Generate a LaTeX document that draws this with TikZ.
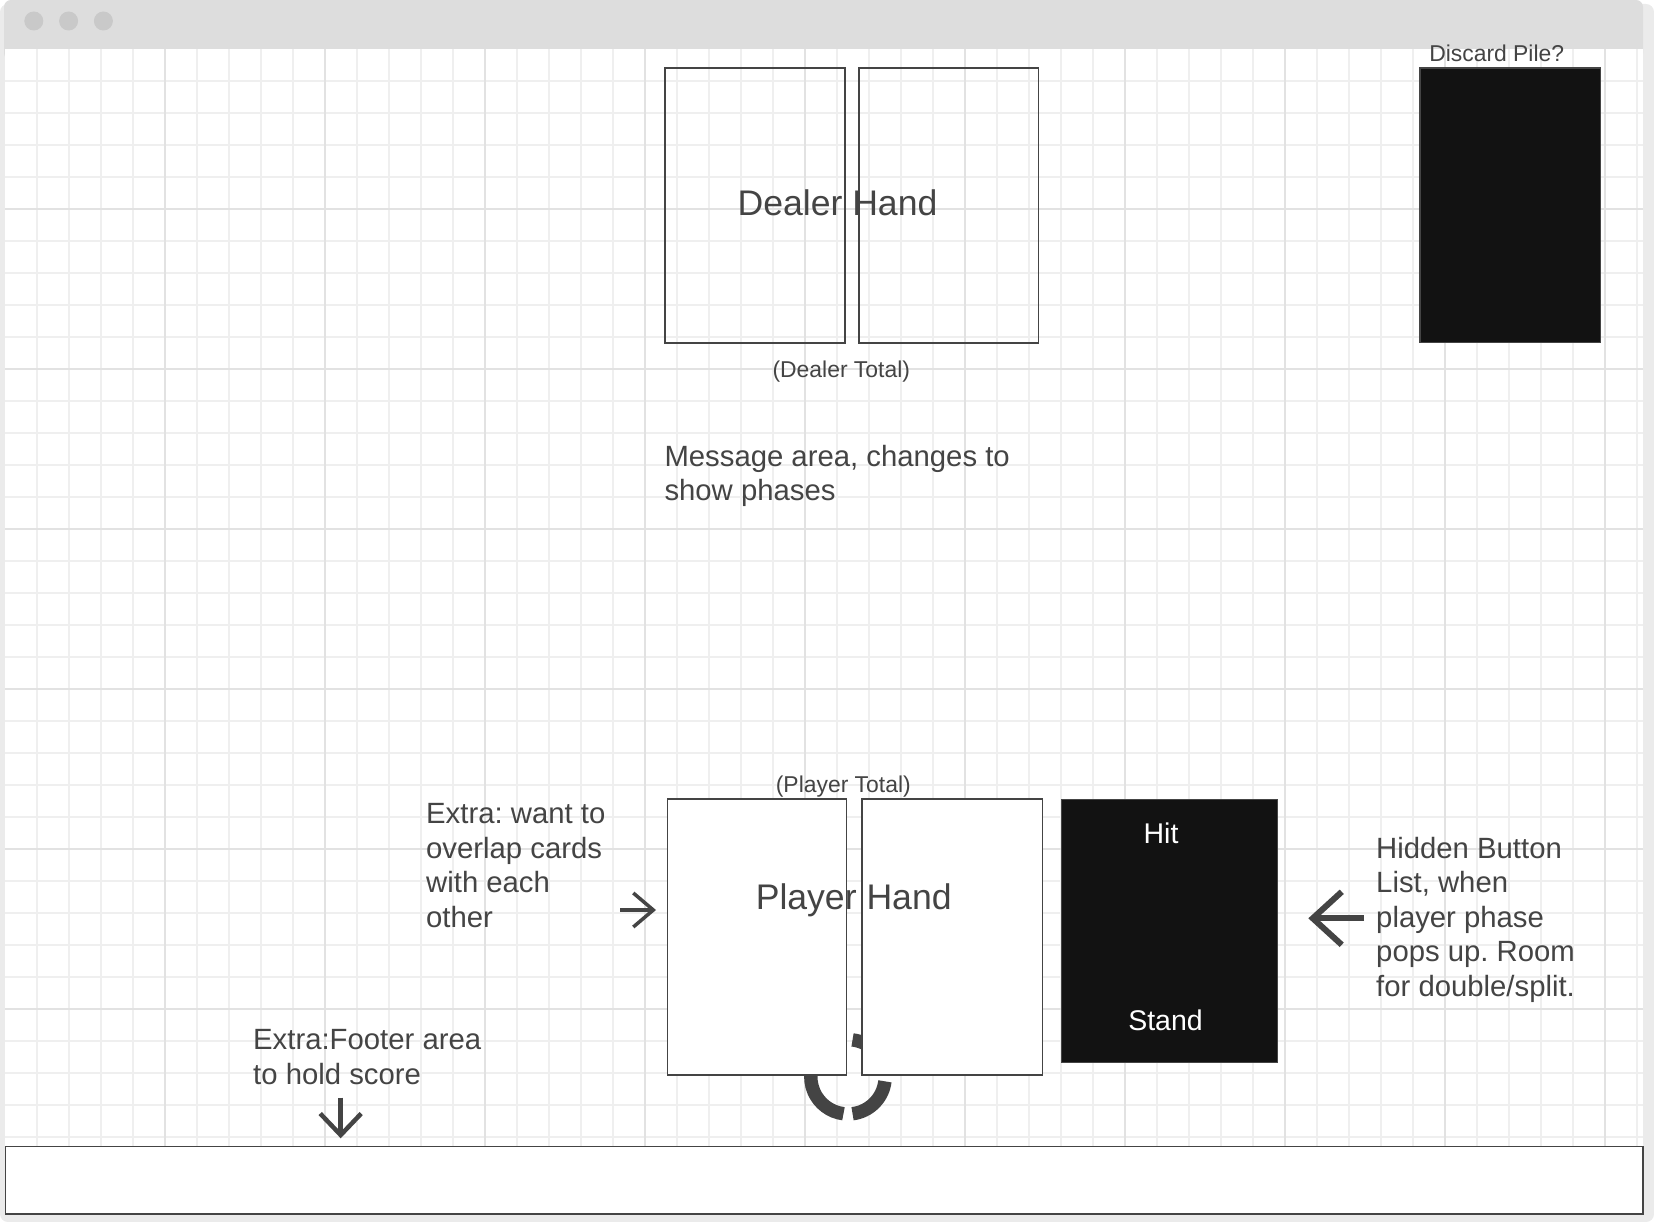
\documentclass[tikz,border=0pt]{standalone}
\usepackage{fontspec}
\setmainfont{Liberation Sans}
\usetikzlibrary{arrows.meta}
\pgfdeclarelayer{bg}
\pgfsetlayers{bg,main}
\frenchspacing
\definecolor{ink}{HTML}{444444}
\definecolor{panel}{HTML}{121212}
\definecolor{frame}{HTML}{EBEBEB}
\definecolor{titlebar}{HTML}{DDDDDD}
\definecolor{dot}{HTML}{C9C9C9}
\definecolor{minorgrid}{HTML}{EFEFEF}
\definecolor{majorgrid}{HTML}{E2E2E2}
\tikzset{
  cardbox/.style={draw=ink, line width=1.3pt, minimum width=180pt, minimum height=275pt, anchor=north west, inner sep=0pt},
  darkbox/.style={draw=ink, fill=panel, line width=1.3pt, anchor=north west, inner sep=0pt},
  notetext/.style={text=ink, align=left, anchor=north west, inner sep=0pt, font=\fontsize{29.3}{34.5}\selectfont},
  smalltext/.style={text=ink, anchor=base, inner sep=0pt, font=\fontsize{22.9}{27}\selectfont},
  handtext/.style={text=ink, anchor=base, inner sep=0pt, font=\fontsize{35.6}{42}\selectfont},
  btntext/.style={text=white, anchor=base, inner sep=0pt, font=\fontsize{28.5}{34}\selectfont},
  pointer/.style={draw=ink, line width=#1}
}

\begin{document}
\begin{tikzpicture}[x=1pt, y=-1pt]
        \useasboundingbox (0,0) rectangle (1654,1222);
        \begin{pgfonlayer}{bg}
                % window and grid paper
                \fill[frame, rounded corners=8pt] (0,4) rectangle (1654,1222);
                \fill[titlebar, rounded corners=7pt] (4,0) rectangle (1643,60);
                \fill[white] (5,49) rectangle (1643,1215);
                \foreach \x in {33.8,68.6,103.4}
                        \fill[dot] (\x,21) circle (9.5);
                \foreach \i in {1,...,51}
                        \draw[minorgrid, line width=1.2pt] (5+32*\i,49) -- (5+32*\i,1215);
                \foreach \i in {1,...,36}
                        \draw[minorgrid, line width=1.2pt] (5,49+32*\i) -- (1643,49+32*\i);
                \foreach \i in {1,...,10}
                        \draw[majorgrid, line width=1.5pt] (5+160*\i,49) -- (5+160*\i,1215);
                \foreach \i in {1,...,7}
                        \draw[majorgrid, line width=1.5pt] (5,49+160*\i) -- (1643,49+160*\i);
        \end{pgfonlayer}
        % dealer side
        \node (d1) [cardbox] at (664.3,67.3) {};
        \node (d2) [cardbox, minimum width=179.4pt] at (858.3,67.3) {};
        \node (dh) [handtext] at (837.5,215.7) {Dealer Hand};
        \node (dt) [smalltext] at (841.3,377.7) {(Dealer Total)};
        \node (pile) [darkbox, minimum width=180.4pt, minimum height=274.7pt] at (1419.3,67.3) {};
        \node (pl) [smalltext] at (1496.7,61.7) {Discard Pile?};
        \node (msg) [notetext] at (664.3,444.9) {Message area, changes to\\show phases};
        % player side
        \coordinate (spin) at (848,1076.8);
        \draw[ink, line width=13.4pt] ([shift={(7:37.2)}]spin) arc[start angle=7, end angle=83, radius=37.2];
        \draw[ink, line width=13.4pt] ([shift={(97:37.2)}]spin) arc[start angle=97, end angle=190, radius=37.2];
        \draw[ink, line width=13.4pt] ([shift={(277:37.2)}]spin) arc[start angle=277, end angle=353, radius=37.2];
        \node (p1) [cardbox, fill=white, minimum width=179pt, minimum height=276pt] at (666.7,798.3) {};
        \node (p2) [cardbox, fill=white, minimum width=180.4pt, minimum height=276pt] at (861.3,798.3) {};
        \node (ph) [handtext] at (853.7,909) {Player Hand};
        \node (pt) [smalltext] at (843.3,792) {(Player Total)};
        \node (btn) [darkbox, minimum width=215.5pt, minimum height=263pt] at (1061,798.5) {};
        \node (hit) [btntext] at (1161,843) {Hit};
        \node (stand) [btntext] at (1165.5,1030) {Stand};
        \node (extra) [notetext] at (426,803.5) {Extra: want to\\overlap cards\\with each\\other};
        \node (hidden) [notetext] at (1376,837) {Hidden Button\\List, when\\player phase\\pops up. Room\\for double/split.};
        \node (foot) [notetext] at (253,1029.2) {Extra:Footer area\\to hold score};
        \node (footer) [draw=ink, fill=white, line width=1.3pt, minimum width=1637.3pt, minimum height=67.6pt, anchor=north west, inner sep=0pt] at (5,1145.7) {};
        % pointers
        \coordinate (a1) at (620,910);
        \coordinate (b1) at (656,910);
        \coordinate (a2) at (1364,918.3);
        \coordinate (b2) at (1308.3,918.3);
        \coordinate (a3) at (340.7,1097.7);
        \coordinate (b3) at (340.7,1138.3);
        \draw[pointer=3.5pt, -{Straight Barb[length=20pt, width=34pt]}] (a1) -- (b1);
        \draw[pointer=6pt, -{Straight Barb[length=29pt, width=53pt]}] (a2) -- (b2);
        \draw[pointer=4.5pt, -{Straight Barb[length=21.5pt, width=41pt]}] (a3) -- (b3);
\end{tikzpicture}
\end{document}
